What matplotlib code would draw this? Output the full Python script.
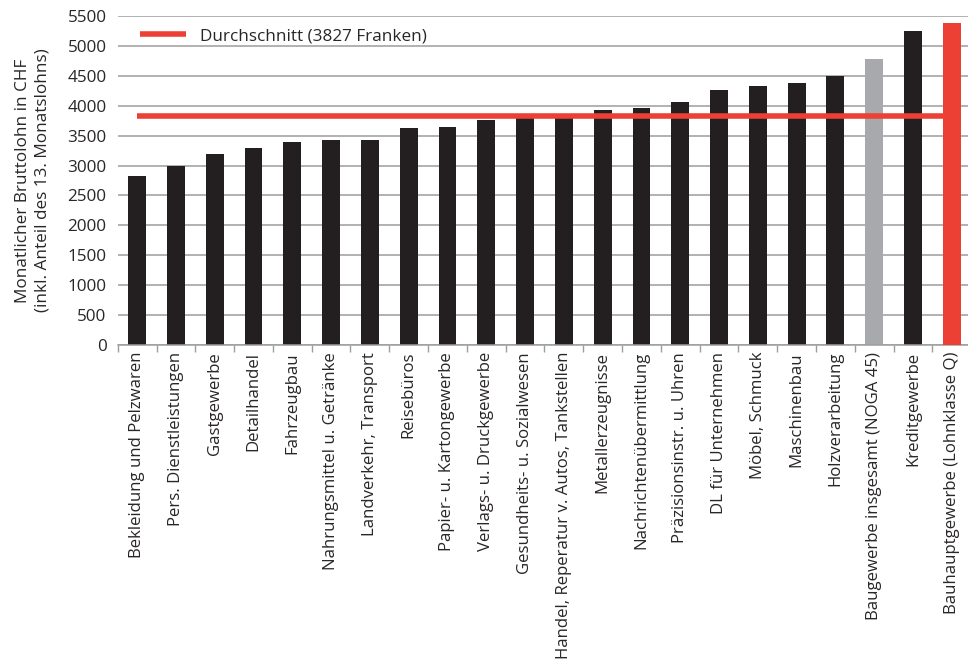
import matplotlib
matplotlib.use("Agg")
import matplotlib.pyplot as plt
import numpy as np
from matplotlib.ticker import FixedLocator, NullFormatter

CATEGORIES = [
    "Bekleidung und Pelzwaren",
    "Pers. Dienstleistungen",
    "Gastgewerbe",
    "Detailhandel",
    "Fahrzeugbau",
    "Nahrungsmittel u. Getränke",
    "Landverkehr, Transport",
    "Reisebüros",
    "Papier- u. Kartongewerbe",
    "Verlags- u. Druckgewerbe",
    "Gesundheits- u. Sozialwesen",
    "Handel, Reperatur v. Autos, Tankstellen",
    "Metallerzeugnisse",
    "Nachrichtenübermittlung",
    "Präzisionsinstr. u. Uhren",
    "DL für Unternehmen",
    "Möbel, Schmuck",
    "Maschinenbau",
    "Holzverarbeitung",
    "Baugewerbe insgesamt (NOGA 45)",
    "Kreditgewerbe",
    "Bauhauptgewerbe (Lohnklasse Q)",
]
WAGES = [2830, 3000, 3185, 3300, 3400, 3420, 3430, 3620, 3645, 3765,
         3830, 3840, 3925, 3970, 4060, 4265, 4330, 4380, 4500, 4780, 5245, 5385]
AVERAGE = 3827
Y_TICKS = list(range(0, 5501, 500))

BLACK = "#231f20"
GREY = "#a7a9ac"
RED = "#ec4034"
TEXT = "#2a2627"

plt.rcParams["font.family"] = ["Open Sans", "DejaVu Sans"]
plt.rcParams["font.size"] = 12.3

fig = plt.figure(figsize=(9.68, 6.63), dpi=100)
ax = fig.add_axes([0.1216, 0.4796, 0.8817, 0.4963])

x = np.arange(len(CATEGORIES))
colors = [BLACK] * len(CATEGORIES)
colors[-3] = GREY
colors[-1] = RED

ax.bar(x[:-1], WAGES[:-1], width=0.46, color=colors[:-1], zorder=2)
ax.plot([x[0], x[-1]], [AVERAGE, AVERAGE], color=RED, linewidth=4,
        solid_capstyle="butt", zorder=3, label=f"Durchschnitt ({AVERAGE} Franken)")
ax.bar(x[-1:], WAGES[-1:], width=0.46, color=colors[-1], zorder=4)

ax.set_xlim(-0.5, len(CATEGORIES) - 0.5)
ax.set_ylim(0, 5500)
ax.set_yticks(Y_TICKS)
ax.yaxis.grid(True, color="#9d9d9d", linewidth=1.1, zorder=0)
ax.set_axisbelow(True)

ax.set_xticks(x)
ax.set_xticklabels(CATEGORIES, rotation=90, color=TEXT, fontsize=12.05)
ax.xaxis.set_minor_locator(FixedLocator(np.arange(-0.5, len(CATEGORIES), 1.0)))
ax.xaxis.set_minor_formatter(NullFormatter())
ax.tick_params(axis="x", which="major", length=0, pad=5)
ax.tick_params(axis="x", which="minor", length=5, width=1, color="#9d9d9d")
ax.tick_params(axis="y", length=0, pad=8, labelcolor=TEXT)

for side in ["top", "right", "left"]:
    ax.spines[side].set_visible(False)
ax.spines["bottom"].set_color("#9d9d9d")
ax.spines["bottom"].set_linewidth(1.1)

ax.set_ylabel("Monatlicher Bruttolohn in CHF\n(inkl. Anteil des 13. Monatslohns)",
              color=TEXT, labelpad=12, linespacing=1.35)

ax.legend(loc="upper left", bbox_to_anchor=(0.008, 1.01), frameon=False,
          handlelength=2.7, handletextpad=0.8, labelcolor=TEXT)

fig.savefig("out.png", dpi=100)
